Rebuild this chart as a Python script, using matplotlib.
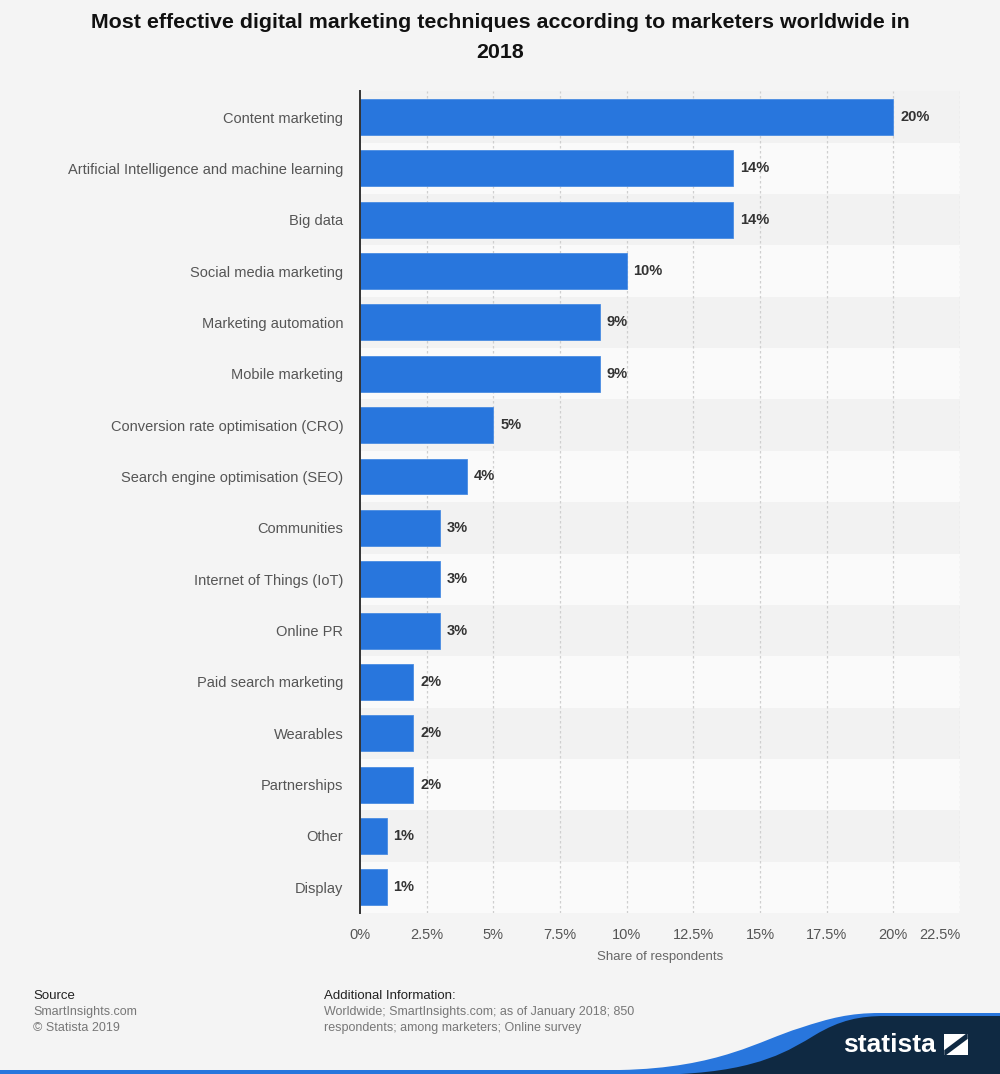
import matplotlib.pyplot as plt
from matplotlib.path import Path
from matplotlib.patches import PathPatch, Rectangle

plt.rcParams['font.family'] = ['Liberation Sans', 'DejaVu Sans']

techniques = ['Content marketing', 'Artificial Intelligence and machine learning', 'Big data',
              'Social media marketing', 'Marketing automation', 'Mobile marketing',
              'Conversion rate optimisation (CRO)', 'Search engine optimisation (SEO)',
              'Communities', 'Internet of Things (IoT)', 'Online PR', 'Paid search marketing',
              'Wearables', 'Partnerships', 'Other', 'Display']
shares = [20, 14, 14, 10, 9, 9, 5, 4, 3, 3, 3, 2, 2, 2, 1, 1]
xticks = [0, 2.5, 5, 7.5, 10, 12.5, 15, 17.5, 20, 22.5]
xticklabels = ['0%', '2.5%', '5%', '7.5%', '10%', '12.5%', '15%', '17.5%', '20%', '22.5%']

W, H = 1000, 1074
fig = plt.figure(figsize=(W / 100, H / 100), dpi=100, facecolor='#f4f4f4')
ax = fig.add_axes([0.36, 161 / H, 0.6, (913 - 91.35) / H])
ax.set_facecolor('#f4f4f4')

n = len(techniques)
ypos = list(range(n))
for i in ypos:
    ax.axhspan(i - 0.5, i + 0.5, color='#f2f2f2' if i % 2 == 0 else '#fafafa', zorder=0, lw=0)

for x in xticks[1:]:
    ax.axvline(x, color='#cfcfcf', lw=0.9, ls=(0, (2, 2)), zorder=1)

ax.barh(ypos, shares, height=0.7, color='#2876dd', edgecolor='#4a8ce2', linewidth=0.6, zorder=2)
for y, v in zip(ypos, shares):
    ax.annotate(f'{v}%', (v, y), xytext=(5, 0), textcoords='offset points',
                va='center', ha='left', fontsize=10.5, fontweight='bold', color='#333333')

ax.set_xlim(0, 22.5)
ax.set_ylim(n - 0.5, -0.5)
ax.set_yticks(ypos)
ax.set_yticklabels(techniques, fontsize=10.5, color='#555555')
ax.set_xticks(xticks)
ax.set_xticklabels(xticklabels, fontsize=10.5, color='#555555')
ax.get_xticklabels()[-1].set_horizontalalignment('right')
ax.tick_params(axis='both', length=0)
ax.tick_params(axis='y', pad=12)
ax.tick_params(axis='x', pad=11)
for s in ['top', 'right', 'bottom']:
    ax.spines[s].set_visible(False)
ax.spines['left'].set_color('#333333')
ax.spines['left'].set_linewidth(1.4)
ax.set_xlabel('Share of respondents', fontsize=9.5, color='#666666', labelpad=6)

fig.text(0.5, 1 - 22 / H, 'Most effective digital marketing techniques according to marketers worldwide in',
         ha='center', va='center', fontsize=15.4, fontweight='bold', color='#111111')
fig.text(0.5, 1 - 53 / H, '2018', ha='center', va='center', fontsize=15.4, fontweight='bold', color='#111111')

# footer
fig.text(33 / W, 1 - 996 / H, 'Source', fontsize=9.5, color='#222222', va='center')
fig.text(33 / W, 1 - 1012 / H, 'SmartInsights.com', fontsize=9, color='#777777', va='center')
fig.text(33 / W, 1 - 1028 / H, '\u00a9 Statista 2019', fontsize=9, color='#777777', va='center')
fig.text(324 / W, 1 - 996 / H, 'Additional Information:', fontsize=9.5, color='#222222', va='center')
fig.text(324 / W, 1 - 1012 / H, 'Worldwide; SmartInsights.com; as of January 2018; 850',
         fontsize=9, color='#777777', va='center')
fig.text(324 / W, 1 - 1028 / H, 'respondents; among marketers; Online survey',
         fontsize=9, color='#777777', va='center')

def fp(x, y):
    return (x / W, 1 - y / H)

# statista logo band
blue = Path([fp(0, 1070), fp(620, 1070), fp(720, 1068), fp(760, 1040), fp(800, 1028),
             fp(830, 1018), fp(850, 1013), fp(880, 1013), fp(1000, 1013), fp(1000, 1074),
             fp(0, 1074), fp(0, 1070)],
            [Path.MOVETO, Path.LINETO, Path.CURVE4, Path.CURVE4, Path.CURVE4, Path.CURVE4,
             Path.CURVE4, Path.CURVE4, Path.LINETO, Path.LINETO, Path.LINETO, Path.CLOSEPOLY])
fig.patches.append(PathPatch(blue, transform=fig.transFigure, facecolor='#2876dd', lw=0))
navy = Path([fp(680, 1074), fp(760, 1070), fp(790, 1050), fp(815, 1035), fp(840, 1020),
             fp(860, 1016), fp(885, 1016), fp(1000, 1016), fp(1000, 1074), fp(680, 1074)],
            [Path.MOVETO, Path.CURVE4, Path.CURVE4, Path.CURVE4, Path.CURVE4, Path.CURVE4,
             Path.CURVE4, Path.LINETO, Path.LINETO, Path.CLOSEPOLY])
fig.patches.append(PathPatch(navy, transform=fig.transFigure, facecolor='#0f2942', lw=0))
fig.text(843 / W, 1 - 1045 / H, 'statista', fontsize=19, fontweight='bold', color='white', va='center')
fig.patches.append(Rectangle(fp(944, 1055), 24 / W, 21 / H, transform=fig.transFigure,
                             facecolor='white', lw=0))
sl = Path([fp(946, 1053), fp(966, 1038), fp(966, 1036), fp(946, 1051), fp(946, 1053)],
          [Path.MOVETO, Path.LINETO, Path.LINETO, Path.LINETO, Path.CLOSEPOLY])
fig.patches.append(PathPatch(sl, transform=fig.transFigure, facecolor='#0f2942', lw=2.5, edgecolor='#0f2942'))

fig.savefig('out.png', dpi=100, facecolor=fig.get_facecolor())
